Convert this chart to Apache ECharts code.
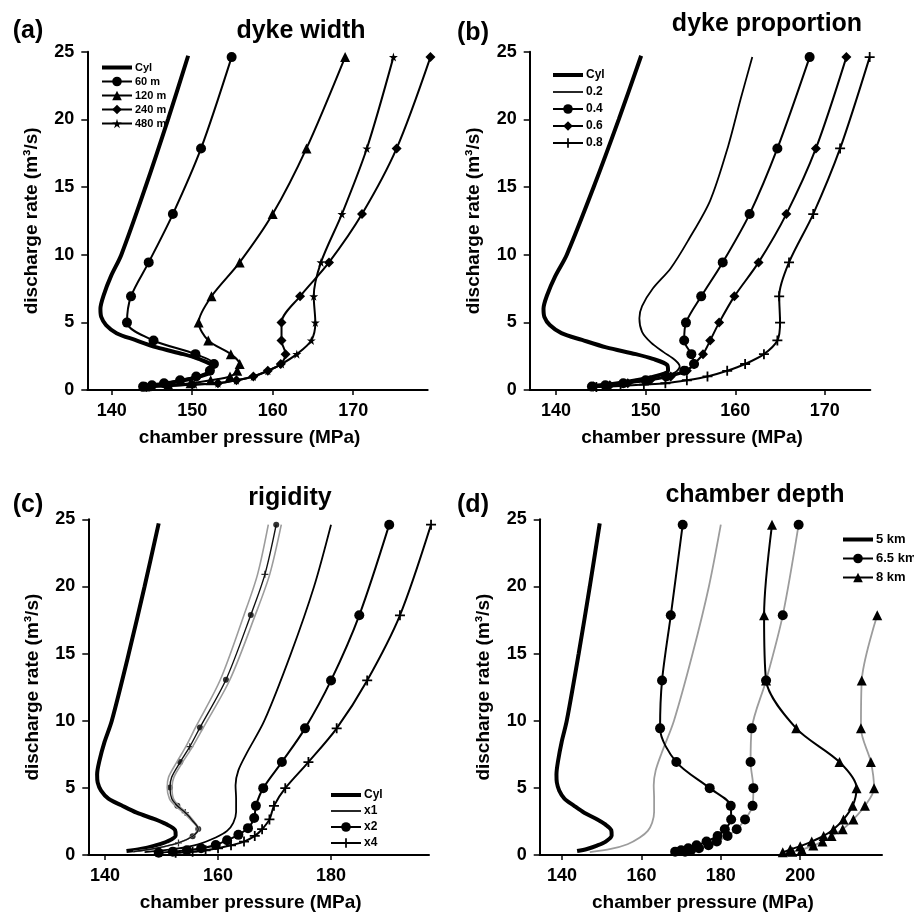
<!DOCTYPE html>
<html><head><meta charset="utf-8">
<script src="https://cdn.jsdelivr.net/npm/echarts/dist/echarts.min.js"></script>
<style>html,body{margin:0;padding:0;background:#fff}#c{width:914px;height:913px}</style>
</head><body><div id="c"></div>
<script>
// ---------- data (x = chamber pressure MPa, y = discharge rate m3/s) ----------
const cylQ = [0.3, 0.45, 0.7, 1.0, 1.45, 1.85, 2.3, 2.65, 3.15, 3.7, 4.2, 4.8, 5.4, 6.0, 7.0, 8.4, 10, 15, 20, 24.7];
const cylP = [143.8, 146.3, 148.8, 151.0, 152.5, 152.4, 150.8, 148.9, 145.6, 142.9, 140.6, 139.3, 138.7, 138.6, 139.0, 139.9, 141.2, 144.2, 147.0, 149.5];

const qStd = [0.25, 0.35, 0.5, 0.72, 1.0, 1.42, 1.92, 2.65, 3.66, 4.98, 6.92, 9.43, 13.0, 17.85, 24.6];
const qLow = [0.22, 0.3, 0.4, 0.5, 0.72, 1.0, 1.42, 1.92, 2.65, 3.66, 4.98, 6.92, 9.43, 13.0, 17.85, 24.6];

// (a) dyke width
const w60P  = [143.9, 145.0, 146.5, 148.5, 150.5, 152.2, 152.7, 150.4, 145.2, 141.9, 142.4, 144.6, 147.6, 151.1, 154.9];
const w120P = [144.2, 147.0, 149.8, 152.3, 154.7, 155.6, 155.9, 154.8, 152.0, 150.8, 152.4, 155.9, 160.0, 164.2, 169.0];
const w240P = [144.3, 147.0, 150.0, 153.2, 155.5, 157.6, 159.4, 161.0, 161.6, 161.1, 161.1, 163.4, 167.0, 171.1, 175.4, 179.6];
const w480P = [144.6, 147.3, 150.3, 153.2, 155.5, 157.6, 159.4, 161.1, 163.0, 164.8, 165.3, 165.1, 166.0, 168.6, 171.7, 175.0];

// (b) dyke proportion
const p02Q = [0.25, 0.4, 0.6, 0.9, 1.3, 1.75, 2.2, 2.8, 3.5, 4.3, 5.3, 6.2, 7.5, 9, 11, 14, 18, 21.5, 24.6];
const p02P = [144.0, 146.5, 149.0, 151.5, 153.3, 153.8, 153.3, 152.0, 150.6, 149.6, 149.3, 149.6, 150.8, 152.8, 154.7, 157.2, 159.2, 160.6, 161.9];
const p04P = [144.0, 145.5, 147.5, 150.0, 152.3, 154.3, 155.4, 155.1, 154.3, 154.5, 156.2, 158.6, 161.6, 164.7, 168.3];
const p06P = [144.2, 146.0, 148.0, 150.5, 152.8, 154.6, 155.4, 156.4, 157.2, 158.2, 159.9, 162.6, 165.7, 169.0, 172.4];
const p08P = [144.5, 147.2, 149.8, 152.2, 154.6, 156.9, 159.1, 161.1, 163.2, 164.7, 165.0, 164.9, 166.0, 168.7, 171.7, 175.0];

// (c) rigidity
const x1Q = [0.22, 0.45, 0.8, 1.3, 1.8, 2.4, 3.2, 4.2, 5.2, 6.3, 7.6, 10, 15, 20, 24.6];
const x1P = [147.0, 152.3, 156.5, 159.6, 161.6, 162.7, 163.2, 163.2, 163.1, 163.6, 165.1, 168.2, 172.9, 177.0, 180.0];
const x2Q = [0.17, 0.25, 0.35, 0.5, 0.75, 1.1, 1.5, 2.0, 2.75, 3.66, 4.98, 6.92, 9.43, 13.0, 17.85, 24.6];
const x2P = [149.5, 152.0, 154.5, 157.0, 159.6, 161.6, 163.6, 165.3, 166.4, 166.7, 168.0, 171.3, 175.4, 180.0, 185.0, 190.3];
const x4Q = [0.17, 0.25, 0.35, 0.5, 0.72, 1.0, 1.42, 1.92, 2.65, 3.66, 4.98, 6.92, 9.43, 13.0, 17.85, 24.6];
const x4P = [152.5, 155.5, 157.8, 160.0, 162.3, 164.6, 166.5, 167.8, 169.1, 169.9, 171.9, 176.0, 181.0, 186.4, 192.2, 197.7];
const midQ   = [0.25, 0.5, 0.9, 1.4, 1.94, 2.6, 3.16, 3.66, 4.2, 5.03, 5.8, 6.92, 8.07, 9.49, 13.05, 17.88, 20.9, 24.6];
const midP   = [145.0, 149.0, 153.0, 155.5, 156.5, 155.4, 154.2, 152.8, 151.8, 151.5, 151.8, 153.3, 155.0, 156.8, 161.4, 165.8, 168.3, 170.3];
const grayLP = [145.0, 149.0, 153.0, 155.5, 156.4, 155.2, 153.9, 152.45, 151.4, 151.0, 151.25, 152.7, 154.3, 156.0, 160.4, 164.6, 167.0, 168.9];
const grayRP = [145.0, 149.0, 153.0, 155.5, 156.6, 155.55, 154.4, 153.05, 152.1, 151.85, 152.2, 153.75, 155.5, 157.4, 162.1, 166.6, 169.15, 171.2];
const midDotQ = [1.4, 1.94, 3.66, 5.03, 6.92, 9.49, 13.05, 17.88, 24.6];
const midDotP = [155.5, 156.5, 152.8, 151.5, 153.3, 156.8, 161.4, 165.8, 170.3];
const midPlusQ = [0.9, 3.16, 8.07, 20.9];
const midPlusP = [153.0, 154.2, 155.0, 168.3];

// (d) chamber depth
const d65P  = [168.5, 170.0, 171.8, 173.9, 176.4, 179.2, 181.0, 182.6, 182.5, 177.2, 168.8, 164.7, 165.2, 167.4, 170.4];
const d65gP = [171.0, 172.5, 174.5, 176.9, 179.0, 181.7, 184.0, 186.1, 188.0, 188.2, 187.5, 187.8, 191.4, 195.6, 199.6];
const d8Q  = [0.2, 0.42, 0.66, 1.0, 1.42, 1.92, 2.65, 3.66, 4.98, 6.92, 9.43, 13.0, 17.85, 24.6];
const d8P  = [195.6, 197.5, 200.0, 202.9, 205.9, 208.4, 210.9, 213.2, 214.2, 209.9, 199.0, 191.4, 190.9, 192.9];
const d8gQ = [0.25, 0.4, 0.7, 1.0, 1.42, 1.92, 2.65, 3.66, 4.98, 6.92, 9.43, 13.0, 17.85];
const d8gP = [198.0, 200.4, 203.3, 205.6, 207.9, 210.7, 213.4, 216.3, 218.6, 217.8, 215.3, 215.5, 219.4];

const yTicks = [0, 5, 10, 15, 20, 25];
const xTicksAB = [140, 150, 160, 170];
const xTicksCD = [140, 160, 180, 200];

// ---------- chart ----------
const FONT = '"Liberation Sans", Arial, Helvetica, sans-serif';
const GRAY = '#9c9c9c';
const STAR = 'path://M50,0 L61,35 L98,35 L68,57 L79,91 L50,70 L21,91 L32,57 L2,35 L39,35 Z';
const PLUS = 'path://M41,0H59V41H100V59H59V100H41V59H0V41H41Z';
const THICK_ICON = 'path://M0,0H30V4H0Z';
const THIN_ICON = 'path://M0,0H30V1.7H0Z';

const pts = (P, Q) => P.map((x, i) => [x, Q[i]]);

function mk(name, gi, P, Q, o) {
  return Object.assign({
    type: 'line', name: name, xAxisIndex: gi, yAxisIndex: gi,
    data: pts(P, Q), smooth: 0.3, clip: false, showAllSymbol: true,
    symbol: 'none', symbolSize: 9, animation: false, silent: true,
    lineStyle: { color: '#000', width: 2 }, itemStyle: { color: '#000' },
    emphasis: { disabled: true }
  }, o);
}

const grids = [
  { left: 87.3, top: 51.7, width: 340.4, height: 338.3 },
  { left: 529.7, top: 51.7, width: 340.6, height: 338.3 },
  { left: 88.3, top: 519.3, width: 340.7, height: 339.7 },
  { left: 539.7, top: 519.3, width: 342.3, height: 339.7 }
];
const xr = [[136.97, 179.26], [137.06, 175.07], [137.04, 197.34], [134.38, 220.6]];

const labelStyle = { fontSize: 18, fontWeight: 'bold', color: '#000', fontFamily: FONT };
const nameStyle = { fontSize: 19, fontWeight: 'bold', color: '#000', fontFamily: FONT };

const xAxes = xr.map((r, i) => {
  const t = i < 2 ? xTicksAB : xTicksCD;
  return {
    type: 'value', gridIndex: i, min: r[0], max: r[1],
    name: 'chamber pressure (MPa)', nameLocation: 'middle', nameGap: 38,
    nameTextStyle: Object.assign({ padding: [0, 16, 0, 0] }, nameStyle),
    axisLine: { onZero: false, lineStyle: { color: '#000', width: 2 } },
    axisTick: { show: true, length: 5, customValues: t, lineStyle: { color: '#000', width: 1.5 } },
    axisLabel: Object.assign({ customValues: t, margin: 12 }, labelStyle),
    splitLine: { show: false }
  };
});
const yAxes = [0, 1, 2, 3].map(i => ({
  type: 'value', gridIndex: i, min: 0, max: 25, interval: 5,
  name: 'discharge rate (m\u00B3/s)', nameLocation: 'middle', nameGap: 46, nameRotate: 90,
  nameTextStyle: nameStyle,
  axisLine: { show: true, lineStyle: { color: '#000', width: 2 } },
  axisTick: { show: true, length: 6, customValues: yTicks, lineStyle: { color: '#000', width: 1.5 } },
  axisLabel: Object.assign({ customValues: yTicks, margin: 13 }, labelStyle),
  splitLine: { show: false }
}));

const CYL = { lineStyle: { color: '#000', width: 4 } };

const series = [
  // (a)
  mk('Cyl', 0, cylP, cylQ, CYL),
  mk('60 m', 0, w60P, qStd, { symbol: 'circle', symbolSize: 10 }),
  mk('120 m', 0, w120P, qStd, { symbol: 'triangle', symbolSize: 10 }),
  mk('240 m', 0, w240P, qLow, { symbol: 'diamond', symbolSize: 10 }),
  mk('480 m', 0, w480P, qLow, { symbol: STAR, symbolSize: 9 }),
  // (b)
  mk('Cyl', 1, cylP, cylQ, CYL),
  mk('0.2', 1, p02P, p02Q, { lineStyle: { color: '#000', width: 1.8 } }),
  mk('0.4', 1, p04P, qStd, { symbol: 'circle', symbolSize: 10 }),
  mk('0.6', 1, p06P, qStd, { symbol: 'diamond', symbolSize: 10 }),
  mk('0.8', 1, p08P, qLow, { symbol: PLUS, symbolSize: 10 }),
  // (c)
  mk('Cyl', 2, cylP, cylQ, CYL),
  mk('gray c1', 2, grayLP, midQ, { lineStyle: { color: GRAY, width: 1.6 } }),
  mk('gray c2', 2, grayRP, midQ, { lineStyle: { color: GRAY, width: 1.6 } }),
  mk('mid c', 2, midP, midQ, { lineStyle: { color: '#111', width: 1.4 } }),
  { type: 'scatter', name: 'mid dots', xAxisIndex: 2, yAxisIndex: 2, data: pts(midDotP, midDotQ), symbol: 'circle', symbolSize: 6, itemStyle: { color: '#000' }, silent: true, animation: false, clip: false },
  { type: 'scatter', name: 'mid plus', xAxisIndex: 2, yAxisIndex: 2, data: pts(midPlusP, midPlusQ), symbol: PLUS, symbolSize: 7, itemStyle: { color: '#000' }, silent: true, animation: false, clip: false },
  mk('x1', 2, x1P, x1Q, { lineStyle: { color: '#000', width: 1.8 } }),
  mk('x2', 2, x2P, x2Q, { symbol: 'circle', symbolSize: 10 }),
  mk('x4', 2, x4P, x4Q, { symbol: PLUS, symbolSize: 10 }),
  // (d)
  mk('5 km', 3, cylP, cylQ, CYL),
  mk('gray d1', 3, x1P, x1Q, { lineStyle: { color: GRAY, width: 1.8 } }),
  mk('gray d2', 3, d65gP, qStd, { symbol: 'circle', symbolSize: 10, lineStyle: { color: GRAY, width: 1.8 } }),
  mk('gray d3', 3, d8gP, d8gQ, { symbol: 'triangle', symbolSize: 10, lineStyle: { color: GRAY, width: 1.8 } }),
  mk('6.5 km', 3, d65P, qStd, { symbol: 'circle', symbolSize: 10 }),
  mk('8 km', 3, d8P, d8Q, { symbol: 'triangle', symbolSize: 10 })
];

function lg(data, left, top, gap, fs) {
  return {
    data: data, orient: 'vertical', left: left, top: top, itemWidth: 30, itemHeight: 12, itemGap: gap,
    selectedMode: false, lineStyle: { width: 'inherit' },
    textStyle: { fontSize: fs, fontWeight: 'bold', color: '#000', fontFamily: FONT, padding: [0, 0, 0, -2] }
  };
}
const thick = n => ({ name: n, icon: THICK_ICON });
const thin = n => ({ name: n, icon: THIN_ICON });

const T = (text, x, y, size) => ({
  type: 'text', x: x, y: y, silent: true,
  style: { text: text, fill: '#000', font: 'bold ' + size + 'px ' + FONT, align: 'center', verticalAlign: 'middle', textAlign: 'center', textVerticalAlign: 'middle' }
});

const option = {
  animation: false,
  backgroundColor: '#fff',
  grid: grids,
  xAxis: xAxes,
  yAxis: yAxes,
  legend: [
    lg([thick('Cyl'), '60 m', '120 m', '240 m', '480 m'], 96, 57, 3, 11),
    lg([thick('Cyl'), thin('0.2'), '0.4', '0.6', '0.8'], 547, 64, 5, 12),
    lg([thick('Cyl'), thin('x1'), 'x2', 'x4'], 325, 784, 4, 12),
    lg([thick('5 km'), '6.5 km', '8 km'], 837, 528, 6, 13)
  ],
  graphic: [
    T('(a)', 28, 31, 25), T('dyke width', 301, 31, 25),
    T('(b)', 473, 33, 25), T('dyke proportion', 767, 24, 25),
    T('(c)', 28, 505, 25), T('rigidity', 290, 498, 25),
    T('(d)', 473, 505, 25), T('chamber depth', 755, 495, 25)
  ],
  series: series
};

const chart = echarts.init(document.getElementById('c'), null, { renderer: 'canvas' });
chart.setOption(option);
</script>
</body></html>
